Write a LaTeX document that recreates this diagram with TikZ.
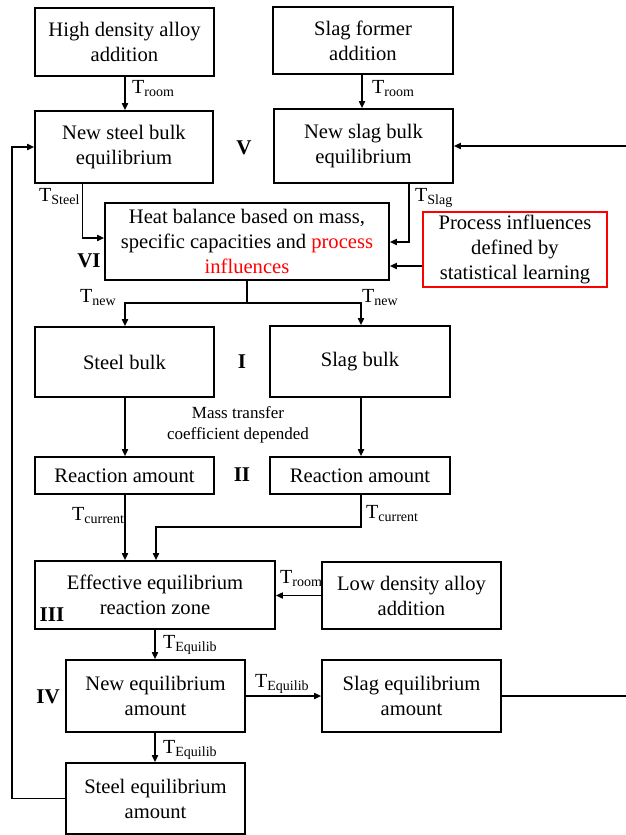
\documentclass[tikz,border=0pt]{standalone}
\usepackage{fontspec}
\setmainfont{Liberation Serif}
\usetikzlibrary{arrows.meta}
\begin{document}
\begin{tikzpicture}[x=1pt,y=-1pt,
  bx/.style={draw, line width=1.6pt, inner sep=0pt, align=center, font=\rmfamily\fontsize{20.6}{25}\selectfont},
  arr/.style={line width=1.6pt, -{Triangle[length=7pt,width=6pt]}},
  ln/.style={line width=1.6pt},
  lab/.style={inner sep=0pt, anchor=base west, font=\rmfamily\fontsize{20}{24}\selectfont},
  num/.style={inner sep=0pt, font=\rmfamily\fontsize{21}{24}\selectfont\bfseries},
  note/.style={inner sep=0pt, align=center, font=\rmfamily\fontsize{17}{21}\selectfont}]
\useasboundingbox (0,0) rectangle (625,835);
\fill[white] (0,0) rectangle (625,835);

% boxes
\node[bx, minimum width=179pt, minimum height=68pt] (b1) at (124.5,42) {High density alloy\\addition};
\node[bx, minimum width=180pt, minimum height=67pt] (b2) at (363,40.5) {Slag former\\addition};
\node[bx, minimum width=178pt, minimum height=72pt] (b3) at (124,147) {New steel bulk\\equilibrium};
\node[bx, minimum width=179pt, minimum height=74pt] (b4) at (363.5,146) {New slag bulk\\equilibrium};
\node[bx, minimum width=284pt, minimum height=77pt] (heat) at (247,241.5) {Heat balance based on mass,\\specific capacities and \textcolor{red}{process}\\\textcolor{red}{influences}};
\node[bx, draw=red, line width=1.4pt, minimum width=184pt, minimum height=75pt] (proc) at (515,249.5) {Process influences\\defined by\\statistical learning};
\node[bx, minimum width=179pt, minimum height=70pt] (stb) at (124.5,362) {Steel bulk};
\node[bx, minimum width=180pt, minimum height=71pt] (slb) at (360,361.5) {Slag bulk};
\node[bx, minimum width=179pt, minimum height=37pt] (ra1) at (124.5,475.5) {Reaction amount};
\node[bx, minimum width=180pt, minimum height=37pt] (ra2) at (360,475.5) {Reaction amount};
\node[bx, minimum width=240pt, minimum height=68pt] (eff) at (155,595) {Effective equilibrium\\reaction zone};
\node[bx, minimum width=179pt, minimum height=67pt] (low) at (411.5,595.5) {Low density alloy\\addition};
\node[bx, minimum width=179pt, minimum height=72pt] (neq) at (155.5,696) {New equilibrium\\amount};
\node[bx, minimum width=179pt, minimum height=72pt] (seq) at (411.5,696) {Slag equilibrium\\amount};
\node[bx, minimum width=179pt, minimum height=71pt] (steq) at (155.5,798.5) {Steel equilibrium\\amount};

% roman numerals
\node[num] (nV) at (244,148) {V};
\node[num] (nVI) at (89,261) {VI};
\node[num] (nI) at (242,362) {I};
\node[num] (nII) at (242,475) {II};
\node[num] (nIII) at (52,615) {III};
\node[num] (nIV) at (48,697) {IV};

\node[note] (mt) at (238,425) {Mass transfer\\coefficient depended};

% helper coordinates
\coordinate (lft) at (12,0);
\coordinate (rgt) at (628,0);
\coordinate (split) at (247,303);
\coordinate (jn) at (156,527);

% connectors
\draw[arr] (b1.south -| 125,0) -- (b3.north -| 125,0);
\node[lab] (tr1) at (132,93) {T\textsubscript{room}};
\draw[arr] (b2.south -| 362,0) -- (b4.north -| 362,0);
\node[lab] (tr2) at (372,93) {T\textsubscript{room}};

\draw[arr] (b3.south -| 82.5,0) |- (heat.west |- 0,238);
\node[lab] (tst) at (39,201) {T\textsubscript{Steel}};
\draw[arr] (b4.south -| 409,0) |- (heat.east |- 0,242);
\node[lab] (tsl) at (415,201) {T\textsubscript{Slag}};
\draw[arr] (proc.west |- 0,266) -- (heat.east |- 0,266);

\draw[ln] (heat.south) -- (split);
\draw[arr] (split) -| (stb.north -| 125,0);
\draw[arr] (split) -| (slb.north -| 361,0);
\node[lab] (tn1) at (80,302) {T\textsubscript{new}};
\node[lab] (tn2) at (362,302) {T\textsubscript{new}};

\draw[arr] (stb.south -| 125,0) -- (ra1.north -| 125,0);
\draw[arr] (slb.south -| 361,0) -- (ra2.north -| 361,0);

\draw[arr] (ra1.south -| 125,0) -- (eff.north -| 125,0);
\node[lab] (tc1) at (72,520) {T\textsubscript{current}};
\draw[arr] (ra2.south -| 361,0) |- (jn) -- (jn |- eff.north);
\node[lab] (tc2) at (366,518) {T\textsubscript{current}};

\draw[arr] (low.west) -- (eff.east |- low.west);
\node[lab] (tr3) at (280,583) {T\textsubscript{room}};

\draw[arr] (eff.south -| 155,0) -- (neq.north -| 155,0);
\node[lab] (te1) at (163,648) {T\textsubscript{Equilib}};
\draw[arr] (neq.east) -- (seq.west);
\node[lab] (te2) at (255,687) {T\textsubscript{Equilib}};
\draw[arr] (neq.south -| 155,0) -- (steq.north -| 155,0);
\node[lab] (te3) at (163,753) {T\textsubscript{Equilib}};

% feedback loops
\draw[arr] (steq.west) -- (steq.west -| lft) |- (b3.west);
\draw[arr] (seq.east) -- (seq.east -| rgt) |- (b4.east);
\end{tikzpicture}
\end{document}
